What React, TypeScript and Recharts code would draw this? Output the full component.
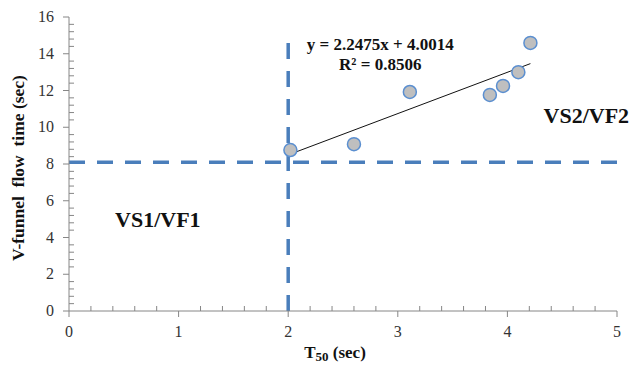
import {
  ScatterChart,
  Scatter,
  XAxis,
  YAxis,
  ReferenceLine,
  ReferenceDot,
} from "recharts";

// T50 (sec) vs V-funnel flow time (sec)
const t50 = [2.02, 2.6, 3.11, 3.84, 3.96, 4.1, 4.21];
const vFunnel = [8.76, 9.08, 11.92, 11.76, 12.25, 13.0, 14.59];

const xMajorTicks = [0, 1, 2, 3, 4, 5];
const yMajorTicks = [0, 2, 4, 6, 8, 10, 12, 14, 16];
const xMinorStep = 0.2;
const yMinorStep = 0.4;

// trend line shown on the chart
const slope = 2.2475;
const intercept = 4.0014;
const trendFrom = 2.02;
const trendTo = 4.21;

// class limits
const t50Limit = 2;
const vFunnelLimit = 8.1;

const points = t50.map((x, i) => ({ x, y: vFunnel[i] }));

const buildTicks = (majors: number[], step: number) => {
  const out: number[] = [];
  const last = majors[majors.length - 1];
  for (let v = majors[0]; v <= last + 1e-9; v += step) out.push(+v.toFixed(4));
  return out;
};
const xTicks = buildTicks(xMajorTicks, xMinorStep);
const yTicks = buildTicks(yMajorTicks, yMinorStep);
const isMajor = (v: number, majors: number[]) => majors.some((m) => Math.abs(m - v) < 1e-6);

const FONT = '"Liberation Serif", "Times New Roman", serif';
const AXIS = "#868686";
const BLUE = "#4a7ebb";

const XTick = (props: any) => {
  const { x, y, payload } = props;
  const major = isMajor(payload.value, xMajorTicks);
  return (
    <g>
      {major ? (
        <line x1={x} y1={y} x2={x} y2={y + 6} stroke={AXIS} />
      ) : (
        <line x1={x} y1={y} x2={x} y2={y - 5} stroke={AXIS} />
      )}
      {major && (
        <text x={x} y={y + 26} textAnchor="middle" fontFamily={FONT} fontSize={16} fill="#333">
          {Math.round(payload.value)}
        </text>
      )}
    </g>
  );
};

const YTick = (props: any) => {
  const { x, y, payload } = props;
  const major = isMajor(payload.value, yMajorTicks);
  return (
    <g>
      {major ? (
        <line x1={x - 6} y1={y} x2={x} y2={y} stroke={AXIS} />
      ) : (
        <line x1={x} y1={y} x2={x + 5} y2={y} stroke={AXIS} />
      )}
      {major && (
        <text x={x - 15} y={y + 5} textAnchor="end" fontFamily={FONT} fontSize={16} fill="#333">
          {Math.round(payload.value)}
        </text>
      )}
    </g>
  );
};

const XTitle = (props: any) => {
  const vb = props.viewBox || {};
  return (
    <text
      x={vb.x + vb.width / 2 - 8}
      y={vb.y + 47}
      textAnchor="middle"
      fontFamily={FONT}
      fontSize={17}
      fontWeight="bold"
      fill="#111"
    >
      T<tspan fontSize={13} dy={3}>50</tspan>
      <tspan dy={-3}> (sec)</tspan>
    </text>
  );
};

const YTitle = (props: any) => {
  const vb = props.viewBox || {};
  const cx = 18;
  const cy = vb.y + vb.height / 2 + 4;
  return (
    <text
      x={cx}
      y={cy}
      transform={`rotate(-90 ${cx} ${cy})`}
      textAnchor="middle"
      dominantBaseline="central"
      fontFamily={FONT}
      fontSize={17.5}
      fontWeight="bold"
      fill="#111"
      style={{ whiteSpace: "pre" }}
    >
      {"V-funnel  flow  time (sec)"}
    </text>
  );
};

const Note = ({ text, anchor = "start", size }: { text: string; anchor?: string; size: number }) =>
  (p: any) => (
    <text
      x={p.cx}
      y={p.cy}
      textAnchor={anchor}
      fontFamily={FONT}
      fontSize={size}
      fontWeight="bold"
      fill="#111"
    >
      {text}
    </text>
  );

const Marker = (p: any) => (
  <circle cx={p.cx} cy={p.cy} r={6.5} fill="#bfbfbf" stroke="#5b8fd0" strokeWidth={1.5} />
);

export default function App() {
  return (
    <div style={{ position: "absolute", left: 0, top: 0, background: "#fff" }}>
      <ScatterChart width={634} height={366} margin={{ top: 17, right: 17, bottom: 0, left: 0 }}>
        <XAxis
          type="number"
          dataKey="x"
          domain={[0, 5]}
          ticks={xTicks}
          interval={0}
          tickLine={false}
          tickSize={0}
          tickMargin={0}
          stroke={AXIS}
          height={55}
          tick={<XTick />}
          label={<XTitle />}
        />
        <YAxis
          type="number"
          dataKey="y"
          domain={[0, 16]}
          ticks={yTicks}
          interval={0}
          tickLine={false}
          tickSize={0}
          tickMargin={0}
          stroke={AXIS}
          width={69}
          tick={<YTick />}
          label={<YTitle />}
        />
        <ReferenceLine
          y={vFunnelLimit}
          stroke={BLUE}
          strokeWidth={3.5}
          strokeDasharray="16 12"
        />
        <ReferenceLine
          segment={[
            { x: t50Limit, y: 0 },
            { x: t50Limit, y: 15.2 },
          ]}
          stroke={BLUE}
          strokeWidth={3.5}
          strokeDasharray="16 12"
        />
        <Scatter data={points} shape={Marker} isAnimationActive={false} />
        <ReferenceLine
          segment={[
            { x: trendFrom, y: slope * trendFrom + intercept },
            { x: trendTo, y: slope * trendTo + intercept },
          ]}
          stroke="#111"
          strokeWidth={1}
        />
        <ReferenceDot
          x={2.84}
          y={14.2}
          r={0}
          shape={Note({ text: `y = ${slope}x + ${intercept.toFixed(4)}`, anchor: "middle", size: 17 })}
        />
        <ReferenceDot
          x={2.84}
          y={13.1}
          r={0}
          shape={Note({ text: "R² = 0.8506", anchor: "middle", size: 17 })}
        />
        <ReferenceDot
          x={4.33}
          y={10.23}
          r={0}
          shape={Note({ text: "VS2/VF2", size: 22 })}
        />
        <ReferenceDot
          x={0.42}
          y={4.57}
          r={0}
          shape={Note({ text: "VS1/VF1", size: 22 })}
        />
      </ScatterChart>
    </div>
  );
}
